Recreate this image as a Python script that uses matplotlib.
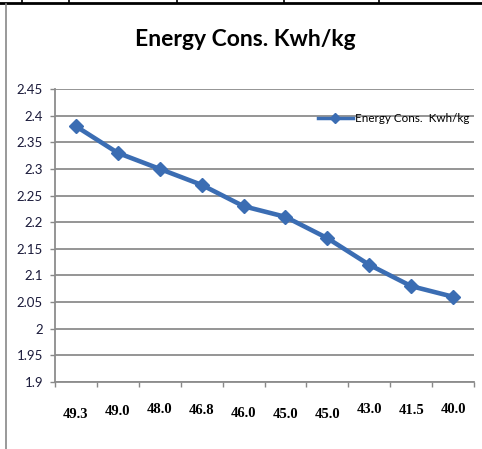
import matplotlib
matplotlib.use("Agg")
import matplotlib.pyplot as plt
from matplotlib.lines import Line2D
import matplotlib.transforms as mtransforms

categories = ["49.3", "49.0", "48.0", "46.8", "46.0", "45.0", "45.0", "43.0", "41.5", "40.0"]
energy = [2.38, 2.33, 2.30, 2.27, 2.23, 2.21, 2.17, 2.12, 2.08, 2.06]
y_ticks = [1.9, 1.95, 2.0, 2.05, 2.1, 2.15, 2.2, 2.25, 2.3, 2.35, 2.4, 2.45]
y_labels = ["1.9", "1.95", "2", "2.05", "2.1", "2.15", "2.2", "2.25", "2.3", "2.35", "2.4", "2.45"]
series_name = "Energy Cons.  Kwh/kg"
title = "Energy Cons. Kwh/kg"

# small vertical jitter of category labels (style only, in points)
label_dy = [-3, -1, 1, 0, -2, -3, -3, 1, 0, 1]

W, H = 482, 449
fig = plt.figure(figsize=(W / 100, H / 100), dpi=100)
fig.patch.set_facecolor("white")

ax = fig.add_axes([55 / W, 1 - 382 / H, (474 - 55) / W, (382 - 89) / H])
x = list(range(len(categories)))
blue = "#3B6DB3"
ax.plot(x, energy, color=blue, lw=3.3, marker="D", ms=7.5, mec=blue, mfc=blue,
        solid_joinstyle="round")

ax.set_xlim(-0.5, len(categories) - 0.5)
ax.set_ylim(1.9, 2.45)
ax.set_yticks(y_ticks)
ax.set_yticklabels(y_labels, fontfamily="Lato", fontsize=9.5, color="#1a1a3a")
ax.set_xticks([i - 0.5 for i in range(len(categories) + 1)])
ax.set_xticklabels([])
ax.tick_params(axis="both", direction="out", length=3.6, width=1, color="#888888")
ax.tick_params(axis="y", pad=5)

ax.grid(axis="y", color="#8c8c8c", lw=1.3)
ax.set_axisbelow(True)
for s in ["top", "right"]:
    ax.spines[s].set_visible(False)
for s in ["left", "bottom"]:
    ax.spines[s].set_color("#8c8c8c")
    ax.spines[s].set_linewidth(1.3)

for i, (lab, dy) in enumerate(zip(categories, label_dy)):
    off = mtransforms.offset_copy(ax.get_xaxis_transform(), fig=fig, x=0, y=dy, units="points")
    ax.text(i, -0.075, lab, transform=off, ha="center", va="top",
            fontfamily="Liberation Serif", fontweight="bold", fontsize=10.5)

# legend
handle = Line2D([], [], color=blue, lw=2.5, marker="D", ms=5)
leg = ax.legend([handle], [series_name], loc="upper right", frameon=False,
                bbox_to_anchor=(1.0, 0.935), handlelength=3.0, handletextpad=0.2,
                borderaxespad=0, prop={"family": "Lato", "size": 8.4})

fig.text(245 / W, 1 - 40 / H, title, ha="center", va="center",
         fontfamily="Lato", fontweight="bold", fontsize=16.5)

# decorations: top border line with ticks and left gray line
fig.add_artist(Line2D([0, 1], [1 - 2.5 / H, 1 - 2.5 / H], color="black", lw=2))
for tx in [22, 69, 177, 284, 379]:
    fig.add_artist(Line2D([tx / W, tx / W], [1 - 2.5 / H, 1], color="black", lw=1.2))
fig.add_artist(Line2D([6 / W, 6 / W], [0, 1 - 4 / H], color="#888888", lw=1.2))

fig.savefig("out.png", dpi=100, facecolor="white")
